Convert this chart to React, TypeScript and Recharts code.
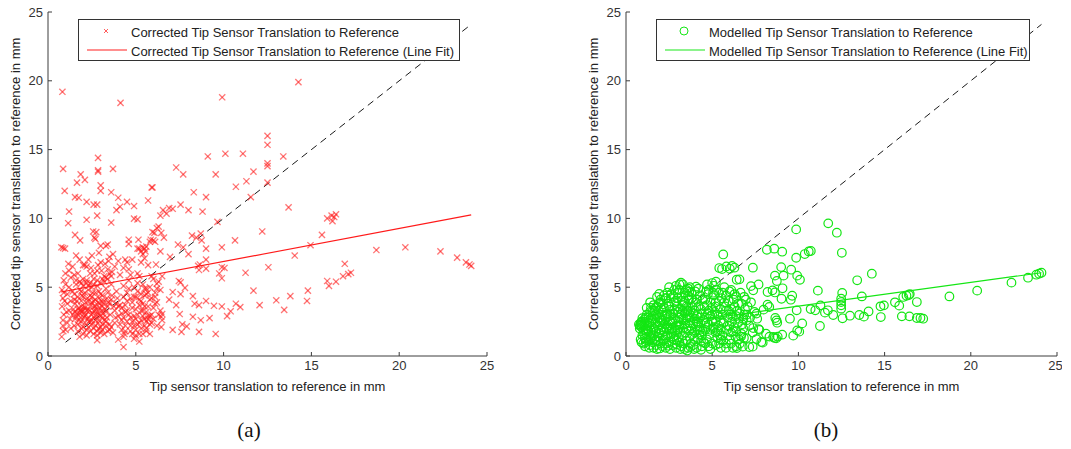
import {
  ScatterChart,
  Scatter,
  XAxis,
  YAxis,
  ReferenceLine,
  Legend,
} from 'recharts';

// axis ticks shared by both panels
const axisTicks = [0, 5, 10, 15, 20, 25];

// identity reference (dashed)
const diagonal = [
  { x: 1, y: 1 },
  { x: 24.1, y: 24.1 },
];

// (a) corrected – line fit end points
const correctedFit = [
  { x: 0.75, y: 4.65 },
  { x: 24.1, y: 10.25 },
];

// (b) modelled – line fit end points
const modelledFit = [
  { x: 0.8, y: 2.05 },
  { x: 24.1, y: 6.05 },
];

// (a) scattered points
const correctedSparse: [number, number][] = [
  [0.82, 19.2], [4.13, 18.4], [9.92, 18.8], [14.26, 19.9], [0.86, 13.6], [2.85, 14.4],
  [2.85, 13.5], [2.85, 13.4], [3.7, 13.6], [7.3, 13.7], [7.7, 13.2], [9.1, 14.5],
  [10.1, 14.7], [11.1, 14.7], [9.55, 13.2], [11.7, 13.4], [11.3, 12.7], [13.4, 14.5],
  [12.5, 16.0], [12.5, 15.35], [12.5, 14.0], [12.5, 13.8], [12.5, 12.6], [0.95, 12.0],
  [1.86, 13.2], [2.1, 12.8], [1.65, 12.6], [3.0, 12.4], [3.0, 12.0], [3.6, 11.9],
  [1.54, 11.55], [1.75, 11.5], [2.2, 11.2], [2.6, 11.0], [2.8, 11.0], [4.0, 11.5],
  [4.5, 11.2], [5.7, 11.3], [5.95, 12.25], [5.9, 12.25], [8.3, 11.9], [9.0, 11.55],
  [11.55, 11.55], [10.7, 12.3], [3.9, 10.6], [4.1, 10.85], [4.9, 10.9], [7.1, 10.7],
  [6.9, 10.75], [7.55, 11.0], [8.0, 10.6], [8.8, 10.5], [13.7, 10.8], [1.2, 10.5],
  [1.15, 9.65], [2.8, 10.2], [2.2, 9.9], [3.6, 9.7], [4.9, 9.98], [5.1, 9.93],
  [6.4, 10.2], [6.75, 10.35], [6.55, 10.6], [6.3, 9.4], [9.65, 9.75], [15.9, 10.0],
  [16.15, 10.2], [16.4, 10.3], [16.2, 9.8], [16.3, 10.1], [15.6, 8.8], [12.2, 9.05],
  [10.65, 8.4], [8.45, 8.6], [8.2, 8.75], [8.7, 8.9], [8.75, 8.4], [9.9, 7.9],
  [7.7, 7.9], [7.4, 8.1], [9.0, 7.8], [0.76, 7.9], [0.86, 7.85], [0.97, 7.8],
  [1.83, 8.4], [1.54, 8.8], [0.99, 6.0], [1.16, 6.7], [2.57, 9.05], [2.64, 8.6],
  [3.4, 8.1], [4.6, 8.45], [4.6, 8.15], [5.15, 8.45], [5.4, 7.9], [5.1, 7.8],
  [5.85, 8.45], [6.06, 8.95], [5.95, 9.0], [6.2, 9.3], [6.45, 8.95], [6.6, 8.6],
  [5.8, 8.3], [5.6, 7.95], [5.55, 7.6], [6.4, 7.6], [6.95, 7.2], [8.0, 7.4],
  [18.7, 7.7], [20.35, 7.9], [22.35, 7.6], [23.3, 7.15], [23.8, 6.8], [24.0, 6.65],
  [24.1, 6.55], [16.9, 6.7], [12.55, 6.45], [11.25, 6.05], [14.95, 8.05], [14.05, 7.3],
  [17.25, 6.05], [17.1, 5.95], [16.8, 5.8], [16.4, 5.4], [15.9, 5.45], [16.0, 5.1],
  [14.8, 4.75], [14.75, 4.0], [13.8, 4.35], [13.0, 4.05], [13.45, 3.35], [12.05, 3.7],
  [11.7, 4.75], [10.95, 3.55], [10.7, 3.8], [10.4, 3.25], [10.2, 2.9], [9.9, 3.6],
  [9.45, 3.65], [9.55, 1.6], [9.2, 2.75], [9.0, 4.0], [8.6, 3.7], [8.35, 3.8],
  [8.25, 4.35], [8.25, 2.85], [8.6, 1.75], [8.7, 2.6], [9.0, 7.0], [9.0, 6.35],
  [8.55, 6.55], [8.6, 6.25], [8.65, 6.65], [9.9, 6.45], [9.9, 5.65], [10.05, 6.4],
  [9.75, 6.0], [7.8, 4.95], [7.55, 5.35], [7.45, 5.45], [7.55, 4.5], [7.1, 4.65],
  [6.9, 4.1], [7.3, 3.7], [7.5, 3.05], [7.1, 1.9], [7.6, 1.75], [7.65, 2.3],
  [7.9, 2.15], [6.45, 2.1], [6.45, 2.85], [6.5, 3.05], [5.4, 1.6], [5.2, 1.05],
  [4.9, 1.25], [4.3, 0.65], [4.35, 1.6], [2.8, 1.15], [1.8, 1.4], [0.78, 1.4],
  [0.87, 1.8], [0.85, 2.2], [6.15, 6.65], [6.5, 5.8], [6.2, 5.25], [6.1, 4.6],
  [5.6, 4.9],
];

// (a) cluster near the origin
const correctedDense: [number, number][] = [
  [0.8, 4.8], [0.85, 4.2], [0.8, 3.6], [0.9, 3.0], [0.85, 2.6], [1.0, 5.2], [1.1, 4.5],
  [1.2, 3.3], [1.1, 2.4], [1.0, 1.9], [0.9, 5.5], [1.2, 5.0], [1.3, 4.0], [1.3, 2.0],
  [1.2, 6.2], [1.5, 3.2], [1.6, 2.9], [1.7, 3.4], [1.8, 3.1], [1.9, 3.6], [1.5, 4.5],
  [1.6, 5.5], [1.7, 6.0], [1.8, 4.8], [1.9, 4.7], [2.0, 3.3], [1.5, 2.2], [1.7, 1.8],
  [1.9, 2.5], [2.0, 2.1], [1.6, 7.3], [1.8, 7.0], [2.0, 6.6], [1.4, 6.5], [1.5, 5.9],
  [1.9, 5.3], [2.0, 4.3], [2.1, 3.5], [2.2, 3.3], [2.3, 3.4], [2.2, 5.3], [2.3, 5.1],
  [2.4, 4.4], [2.1, 6.6], [2.2, 6.5], [2.3, 7.0], [2.4, 2.6], [2.5, 2.3], [2.1, 2.9],
  [2.2, 1.9], [2.5, 3.9], [2.6, 5.2], [2.6, 4.0], [2.4, 6.0], [2.5, 7.3], [2.6, 1.6],
  [2.3, 4.0], [2.0, 5.6], [2.5, 5.0], [2.7, 3.6], [2.8, 3.2], [2.9, 3.0], [3.0, 2.9],
  [3.1, 3.1], [2.7, 4.6], [2.9, 4.2], [3.0, 4.5], [3.1, 5.6], [3.2, 5.8], [2.8, 6.2],
  [2.9, 7.5], [3.0, 8.0], [2.7, 8.5], [2.75, 9.0], [2.8, 1.8], [2.9, 2.0], [3.0, 1.7],
  [3.1, 2.3], [3.2, 2.6], [2.8, 5.5], [3.0, 6.8], [3.2, 4.0], [2.7, 2.6], [3.3, 3.2],
  [3.4, 3.6], [3.5, 3.8], [3.6, 4.1], [3.3, 5.7], [3.4, 6.3], [3.5, 6.0], [3.6, 5.8],
  [3.7, 7.4], [3.8, 6.5], [3.3, 2.2], [3.5, 1.9], [3.7, 1.7], [3.8, 2.4], [3.4, 4.6],
  [3.6, 5.2], [3.8, 3.3], [3.5, 7.2], [3.3, 8.0], [3.9, 3.8], [4.0, 3.6], [4.1, 3.7],
  [4.2, 3.5], [4.0, 2.9], [4.2, 2.6], [4.4, 2.2], [4.1, 5.9], [4.3, 6.4], [4.4, 7.0],
  [4.5, 6.8], [4.0, 6.9], [3.9, 4.7], [4.3, 4.3], [4.4, 3.2], [4.5, 2.5], [4.2, 1.9],
  [4.3, 1.4], [4.5, 4.0], [4.0, 1.2], [4.6, 6.3], [4.7, 5.9], [4.7, 2.8], [4.8, 2.5],
  [4.9, 2.2], [5.0, 2.7], [5.1, 3.0], [5.2, 2.4], [5.3, 2.6], [5.4, 2.9], [5.5, 2.7],
  [4.8, 3.5], [4.9, 4.3], [5.0, 4.3], [5.2, 3.7], [5.3, 4.0], [5.4, 3.3], [5.5, 3.6],
  [4.6, 4.9], [4.8, 7.0], [5.1, 6.0], [5.2, 7.8], [5.3, 7.6], [5.4, 7.4], [5.5, 7.8],
  [5.4, 5.2], [5.5, 4.4], [4.7, 1.8], [5.0, 1.5], [5.3, 2.0], [5.1, 5.3], [5.6, 2.5],
  [5.7, 2.9], [5.8, 2.3], [5.9, 3.0], [6.0, 3.5], [6.1, 3.8], [6.2, 3.9], [5.6, 4.5],
  [5.8, 5.0], [5.9, 5.8], [6.0, 8.4], [6.1, 8.3], [6.2, 4.9], [6.3, 5.4], [5.7, 3.6],
  [5.6, 1.8], [5.8, 4.1], [6.4, 3.3], [6.5, 2.6], [6.4, 4.8],
];

// (a) darkest core, x 1.3..4
const correctedCore: [number, number][] = [
  [1.4, 3.0], [1.45, 3.4], [1.55, 2.7], [1.65, 3.1], [1.75, 3.5], [1.85, 2.8], [1.95, 3.2],
  [2.05, 3.6], [2.15, 3.0], [2.25, 2.7], [2.35, 3.3], [2.45, 3.7], [2.55, 3.1], [2.65, 2.8],
  [2.75, 3.4], [2.85, 3.9], [2.95, 3.5], [3.05, 3.3], [3.15, 3.8], [3.25, 3.4], [1.5, 4.1],
  [1.7, 4.3], [1.9, 4.0], [2.1, 4.6], [2.3, 4.8], [2.5, 4.3], [2.7, 4.1], [2.9, 4.7],
  [3.1, 4.4], [3.3, 4.9], [1.6, 5.2], [1.8, 5.4], [2.0, 5.1], [2.2, 5.5], [2.4, 5.3],
  [2.6, 5.6], [2.8, 5.1], [3.0, 5.3], [3.2, 5.4], [3.4, 5.6], [1.7, 2.3], [1.9, 2.0],
  [2.1, 2.4], [2.3, 2.1], [2.5, 2.6], [2.7, 2.2], [2.9, 2.6], [3.1, 1.9], [3.3, 2.5],
  [3.5, 2.3], [2.0, 1.6], [2.2, 1.5], [2.4, 1.8], [2.6, 2.0], [2.8, 1.5], [3.0, 2.1],
  [3.2, 1.6], [3.4, 1.8], [3.6, 2.1], [2.45, 6.4], [2.65, 6.0], [2.85, 6.6], [3.05, 6.2],
  [3.25, 6.7], [3.45, 6.9], [3.65, 6.1], [1.3, 5.7], [1.4, 4.7], [1.1, 3.8], [1.25, 2.7],
  [1.05, 3.2], [0.95, 4.0], [0.9, 4.6], [3.55, 3.0], [3.75, 3.6], [3.65, 4.4], [3.85, 2.8],
  [3.95, 4.2], [3.45, 3.9], [3.35, 2.8], [1.55, 3.8], [1.75, 2.6], [1.95, 4.4], [2.15, 3.9],
  [2.35, 2.5], [2.55, 4.6], [2.75, 3.0], [2.95, 3.8], [3.15, 2.8], [3.35, 4.2], [2.05, 2.8],
  [2.25, 4.2], [2.45, 3.0], [2.65, 3.6], [2.85, 2.4], [3.05, 4.0], [1.65, 4.0], [1.85, 3.3],
  [2.6, 3.3], [3.1, 3.6],
];

// (a) lighter patch, x 4..6.5
const correctedLight: [number, number][] = [
  [4.1, 2.3], [4.3, 2.8], [4.5, 3.3], [4.7, 2.2], [4.9, 2.9], [5.1, 2.3], [5.3, 3.3],
  [5.5, 2.2], [5.7, 2.7], [5.9, 2.4], [4.2, 3.1], [4.4, 3.7], [4.6, 3.0], [4.8, 3.9],
  [5.0, 3.4], [5.2, 4.1], [5.4, 3.8], [5.6, 3.2], [5.8, 2.9], [6.0, 2.7], [4.5, 4.6],
  [4.7, 4.2], [4.9, 5.0], [5.1, 4.7], [5.3, 4.5], [5.5, 4.9], [5.7, 4.6], [5.9, 4.2],
  [4.3, 5.1], [4.6, 5.5], [5.0, 1.9], [5.2, 1.6], [5.6, 2.0], [5.8, 1.6], [4.4, 1.8],
  [4.8, 1.6], [6.2, 2.2], [6.3, 3.0], [6.1, 4.3], [6.0, 5.6], [5.7, 6.6], [5.5, 7.1],
  [5.3, 6.8], [5.2, 5.8],
];

// (b) scattered points
const modelledSparse: [number, number][] = [
  [11.73, 9.64], [12.23, 8.96], [9.87, 9.2], [12.52, 7.5], [8.17, 7.72], [8.6, 7.8],
  [9.06, 7.58], [10.72, 7.63], [10.37, 7.41], [10.6, 7.6], [9.87, 7.14], [5.64, 7.38],
  [5.41, 6.39], [5.82, 6.51], [6.02, 6.34], [6.29, 6.42], [7.36, 6.42], [9.0, 6.46],
  [9.14, 5.84], [9.58, 6.27], [9.93, 5.84], [10.09, 5.54], [8.64, 5.84], [8.75, 5.45],
  [9.08, 4.92], [9.64, 4.38], [9.56, 4.09], [9.02, 4.16], [8.5, 4.77], [8.64, 4.62],
  [8.21, 4.65], [7.69, 5.2], [7.25, 5.08], [7.38, 4.77], [6.42, 5.54], [13.41, 5.5],
  [14.26, 5.98], [11.13, 4.75], [12.54, 4.58], [12.48, 4.16], [12.48, 3.92], [12.48, 3.68],
  [12.48, 3.44], [13.68, 4.33], [14.76, 3.61], [14.96, 3.68], [15.6, 3.9], [16.08, 4.29],
  [16.27, 4.38], [16.46, 4.5], [16.41, 4.43], [16.87, 3.92], [18.76, 4.33], [20.37, 4.75],
  [22.36, 5.33], [23.32, 5.69], [23.8, 5.91], [23.96, 5.98], [24.1, 6.05], [15.85, 3.66],
  [14.07, 3.24], [13.53, 2.98], [13.8, 2.86], [12.99, 2.93], [12.56, 2.74], [12.02, 2.98],
  [11.54, 3.15], [11.71, 3.32], [11.28, 3.68], [10.98, 3.32], [10.71, 3.41], [11.25, 2.18],
  [10.22, 2.37], [9.93, 1.86], [10.05, 1.77], [9.7, 1.48], [9.51, 2.71], [9.9, 3.32],
  [14.78, 2.83], [16.0, 2.88], [16.44, 2.88], [16.87, 2.76], [17.08, 2.76], [17.24, 2.71],
  [8.62, 1.31], [8.71, 1.28], [8.54, 1.38], [8.73, 2.59], [8.77, 2.42], [8.66, 2.76],
  [8.12, 1.62], [7.85, 1.02], [7.93, 0.97], [7.57, 1.23], [7.15, 0.65], [6.84, 1.31],
  [6.43, 0.58], [7.38, 2.03], [7.69, 1.96], [9.06, 1.55], [7.98, 3.37], [8.21, 3.73],
  [8.31, 3.56], [7.57, 3.08], [7.61, 2.71], [6.8, 2.71], [5.57, 6.32], [6.15, 6.54],
  [6.58, 5.57], [5.22, 5.4], [3.19, 5.33], [3.1, 4.8], [1.93, 4.51], [2.32, 4.2],
  [3.67, 4.67], [4.06, 5.04], [4.64, 4.67], [0.87, 2.25], [1.06, 2.38], [1.16, 1.16],
  [6.77, 0.68], [7.35, 0.68], [6.67, 1.41], [7.74, 1.9], [8.32, 1.41], [8.8, 1.41],
];

// (b) cluster near the origin
const modelledDense: [number, number][] = [
  [0.75, 2.3], [0.8, 2.2], [0.85, 2.4], [0.9, 2.1], [0.95, 2.3], [1.0, 1.9], [1.1, 2.5],
  [1.2, 2.0], [0.9, 1.0], [1.0, 0.9], [1.1, 1.3], [1.2, 1.6], [1.3, 2.8], [1.4, 3.2],
  [1.3, 1.1], [1.4, 0.8], [1.5, 1.7], [1.5, 2.6], [1.2, 3.0], [1.45, 3.5], [1.6, 2.0],
  [1.7, 2.4], [1.8, 2.9], [1.9, 3.3], [2.0, 2.6], [2.1, 2.1], [2.2, 1.8], [2.3, 2.7],
  [2.4, 3.1], [2.5, 3.6], [1.6, 0.6], [1.7, 1.1], [1.8, 0.5], [1.9, 1.4], [2.0, 0.9],
  [2.1, 0.7], [2.2, 1.2], [2.3, 0.6], [2.4, 1.5], [2.5, 1.0], [1.8, 4.3], [1.9, 3.8],
  [2.0, 4.1], [2.2, 3.5], [2.3, 4.2], [2.4, 2.2], [1.7, 3.5], [2.1, 3.0], [2.5, 2.0],
  [1.6, 1.5], [2.6, 3.0], [2.7, 2.5], [2.8, 3.4], [2.9, 4.0], [3.0, 4.6], [3.1, 5.2],
  [3.2, 4.3], [3.3, 3.7], [3.4, 3.1], [3.5, 2.7], [2.6, 1.6], [2.7, 0.8], [2.8, 1.2],
  [2.9, 0.6], [3.0, 1.9], [3.1, 1.0], [3.2, 0.7], [3.3, 1.5], [3.4, 0.5], [3.5, 1.1],
  [2.6, 4.5], [2.8, 4.8], [3.0, 3.2], [3.2, 2.3], [3.4, 4.0], [2.7, 2.0], [3.1, 2.8],
  [3.5, 3.6], [2.9, 2.2], [3.3, 2.0], [3.6, 4.9], [3.7, 5.0], [3.8, 4.6], [3.9, 3.9],
  [4.0, 3.3], [4.1, 2.9], [4.2, 2.4], [4.3, 1.9], [4.4, 1.5], [4.5, 1.0], [3.6, 0.6],
  [3.7, 1.4], [3.8, 2.0], [3.9, 0.8], [4.0, 1.7], [4.1, 0.6], [4.2, 3.6], [4.3, 4.4],
  [4.4, 3.1], [4.5, 2.6], [3.7, 2.8], [3.9, 2.4], [4.1, 4.1], [4.4, 0.7], [3.6, 3.3],
  [4.6, 4.1], [4.7, 3.7], [4.8, 3.3], [4.9, 2.9], [5.0, 2.5], [5.1, 2.1], [5.2, 1.7],
  [5.3, 1.3], [5.4, 0.9], [5.5, 0.6], [4.6, 1.9], [4.7, 1.2], [4.8, 2.3], [4.9, 3.9],
  [5.0, 5.3], [5.1, 4.4], [5.2, 3.6], [5.3, 3.0], [5.4, 4.0], [5.5, 2.6], [4.7, 5.2],
  [5.0, 0.9], [5.2, 2.5], [5.5, 3.4], [4.8, 0.7], [5.6, 4.6], [5.7, 3.9], [5.8, 3.3],
  [5.9, 2.8], [6.0, 2.2], [6.1, 1.7], [6.2, 2.9], [6.3, 3.6], [6.4, 4.3], [6.5, 2.4],
  [5.6, 1.5], [5.8, 0.9], [6.0, 1.2], [6.2, 0.6], [6.4, 1.8], [6.6, 3.1], [6.7, 3.8],
  [6.8, 2.0], [6.9, 3.4], [7.0, 2.6], [5.7, 5.0], [6.1, 4.8], [6.3, 4.5], [7.0, 1.3],
  [6.6, 0.9],
];

// (b) solid core, x 0.8..4.5
const modelledCore: [number, number][] = [
  [0.8, 2.0], [0.9, 2.5], [1.0, 2.2], [1.05, 1.6], [1.15, 2.8], [1.25, 1.9], [1.35, 2.4],
  [1.45, 1.3], [1.55, 2.9], [1.65, 3.3], [1.75, 1.8], [1.85, 2.2], [1.95, 2.8], [2.05, 3.4],
  [2.15, 1.5], [2.25, 2.3], [2.35, 3.0], [2.45, 3.8], [2.55, 2.5], [2.65, 1.9], [2.75, 3.1],
  [2.85, 2.7], [2.95, 3.6], [3.05, 2.5], [3.15, 3.4], [3.25, 4.0], [3.35, 2.6], [3.45, 1.7],
  [3.55, 2.9], [3.65, 4.1], [3.75, 3.2], [3.85, 1.6], [3.95, 2.7], [4.05, 3.9], [4.15, 1.3],
  [4.25, 2.1], [4.35, 3.4], [4.45, 1.8], [1.1, 0.7], [1.35, 0.6], [1.55, 1.0], [1.75, 0.8],
  [1.95, 0.55], [2.15, 1.1], [2.35, 0.9], [2.55, 0.5], [2.75, 1.4], [2.95, 1.1], [3.15, 0.5],
  [3.35, 0.9], [3.55, 0.4], [3.75, 0.9], [3.95, 0.5], [4.15, 1.9], [4.35, 1.1], [1.2, 3.5],
  [1.4, 3.9], [1.6, 3.7], [1.8, 3.6], [2.0, 3.9], [2.2, 4.4], [2.4, 4.6], [2.6, 4.2],
  [2.8, 3.9], [3.0, 4.2], [3.2, 3.0], [3.4, 4.6], [3.6, 4.4], [3.8, 4.2], [4.0, 4.7],
  [4.2, 4.9], [2.5, 5.0], [2.9, 5.1], [3.3, 5.2], [3.5, 4.8], [1.3, 1.8], [1.5, 2.1],
  [1.7, 2.7], [1.9, 1.7], [2.1, 2.6], [2.3, 1.4], [2.5, 2.9], [2.7, 1.7], [2.9, 1.5],
  [3.1, 2.2], [3.3, 3.3], [3.5, 2.0], [3.7, 2.4], [3.9, 3.1], [4.1, 2.5], [4.3, 2.8],
  [0.95, 1.5], [0.85, 1.2], [1.15, 1.0], [1.05, 2.65], [1.25, 2.25], [1.45, 2.75],
  [1.65, 1.25], [1.85, 1.05], [2.05, 1.85], [2.25, 2.95], [2.45, 0.75], [2.65, 2.35],
  [2.85, 1.85], [3.05, 1.35], [3.25, 2.65], [3.45, 2.35], [3.65, 1.85], [3.85, 3.55],
  [4.05, 2.15], [4.25, 1.55], [4.45, 4.15], [1.35, 1.45], [1.55, 3.25], [1.75, 3.05],
  [1.95, 2.45], [2.15, 3.75], [2.35, 1.95], [2.55, 3.35], [2.75, 4.35], [2.95, 0.85],
  [3.15, 1.75], [3.35, 3.85], [3.55, 3.25], [3.75, 0.65], [3.95, 1.25], [4.15, 3.05],
  [4.35, 0.45], [0.95, 2.75], [1.15, 1.85],
];

// (b) lighter patch, x 4.5..7.5
const modelledLight: [number, number][] = [
  [4.55, 3.6], [4.65, 2.8], [4.75, 4.5], [4.85, 1.6], [4.95, 3.5], [5.05, 2.0], [5.15, 3.2],
  [5.25, 4.8], [5.35, 2.2], [5.45, 1.5], [5.55, 4.2], [5.65, 2.4], [5.75, 3.6], [5.85, 1.9],
  [5.95, 4.0], [6.05, 3.0], [6.15, 2.5], [6.25, 4.1], [6.35, 1.4], [6.45, 3.3], [6.55, 2.7],
  [6.65, 4.6], [6.75, 2.3], [6.85, 3.0], [6.95, 4.1], [7.05, 3.6], [7.15, 2.2], [7.25, 3.9],
  [7.35, 1.7], [7.45, 3.2], [4.6, 0.9], [4.9, 0.5], [5.2, 0.8], [5.5, 1.2], [5.8, 0.6],
  [6.1, 0.9], [6.4, 0.7], [4.7, 2.1], [5.0, 3.0], [5.3, 1.8], [5.6, 3.0], [5.9, 2.2],
  [6.2, 1.8], [6.5, 3.8], [4.8, 4.8], [5.1, 5.1], [5.4, 4.6], [6.0, 4.7], [4.6, 2.4],
  [4.9, 1.9], [5.2, 3.9], [5.5, 1.9], [5.8, 4.4], [6.1, 3.4], [6.4, 2.9], [6.7, 1.6],
  [7.0, 3.0], [7.2, 2.8], [4.75, 3.1], [5.05, 4.6], [5.35, 2.9], [5.65, 1.1], [5.95, 3.3],
  [6.25, 2.1], [6.55, 1.2], [6.85, 4.3],
];

const toPoints = (rows: [number, number][]) => rows.map(([x, y]) => ({ x, y }));
const correctedPoints = toPoints([...correctedCore, ...correctedDense, ...correctedLight, ...correctedSparse]);
const modelledPoints = toPoints([...modelledCore, ...modelledDense, ...modelledLight, ...modelledSparse]);

const FONT = '"Liberation Sans", Arial, sans-serif';
const tickStyle = { fontSize: 13, fill: '#333', fontFamily: FONT };
const AXIS = '#3c3c3c';
const RED = '#ff1a1a';
const GREEN = '#14e614';
const X_LABEL = 'Tip sensor translation to reference in mm';
const Y_LABEL = 'Corrected tip sensor translation to reference in mm';

function CrossMark(props: any) {
  const { cx, cy } = props;
  const s = 3.1;
  return (
    <g stroke={RED} strokeOpacity={0.6} strokeWidth={1.3}>
      <line x1={cx - s} y1={cy - s} x2={cx + s} y2={cy + s} />
      <line x1={cx - s} y1={cy + s} x2={cx + s} y2={cy - s} />
    </g>
  );
}

function CircleMark(props: any) {
  const { cx, cy } = props;
  return <circle cx={cx} cy={cy} r={4.3} fill="none" stroke={GREEN} strokeWidth={1.2} />;
}

function YTitle(props: any) {
  const { viewBox } = props;
  const cx = viewBox.x + 15;
  const cy = viewBox.y + viewBox.height / 2;
  return (
    <text
      x={cx}
      y={cy}
      transform={`rotate(-90 ${cx} ${cy})`}
      textAnchor="middle"
      dominantBaseline="central"
      fontSize={13}
      fontFamily={FONT}
      fill="#222"
    >
      {Y_LABEL}
    </text>
  );
}

function LegendBox({ marker, color, labels, width }: any) {
  return (
    <div
      style={{
        width,
        height: 40,
        border: '1px solid #333',
        background: '#fff',
        fontFamily: FONT,
        fontSize: 13,
        color: '#222',
        position: 'relative',
        textAlign: 'left',
      }}
    >
      <svg width={width} height={40} style={{ position: 'absolute', left: 0, top: 0 }}>
        {marker === 'x' ? (
          <g stroke={color} strokeOpacity={0.7} strokeWidth={1}>
            <line x1={25} y1={9} x2={29} y2={13} />
            <line x1={25} y1={13} x2={29} y2={9} />
          </g>
        ) : (
          <circle cx={27} cy={11} r={4} fill="none" stroke={color} />
        )}
        <line x1={8} y1={30} x2={48} y2={30} stroke={color} strokeOpacity={0.65} strokeWidth={1.5} />
      </svg>
      <div style={{ position: 'absolute', left: 52, top: 3, lineHeight: '19px', whiteSpace: 'nowrap' }}>
        <div>{labels[0]}</div>
        <div>{labels[1]}</div>
      </div>
    </div>
  );
}

function Panel({ left, width, rightMargin, points, fit, shape, color, marker, legendLabels, legendWidth }: any) {
  return (
    <div style={{ position: 'absolute', left, top: 0 }}>
      <ScatterChart width={width} height={400} margin={{ top: 12, right: rightMargin, bottom: 0, left: 0 }}>
        <XAxis
          type="number"
          dataKey="x"
          domain={[0, 25]}
          ticks={axisTicks}
          allowDataOverflow
          height={44}
          tickSize={-4}
          tickMargin={9}
          tick={tickStyle}
          stroke={AXIS}
          label={{ value: X_LABEL, position: 'insideBottom', offset: 9, style: { ...tickStyle, fill: '#222' } }}
        />
        <YAxis
          type="number"
          dataKey="y"
          domain={[0, 25]}
          ticks={axisTicks}
          allowDataOverflow
          width={48}
          tickSize={-4}
          tickMargin={9}
          tick={tickStyle}
          stroke={AXIS}
          label={(p: any) => <YTitle {...p} />}
        />
        <Scatter data={points} shape={shape} isAnimationActive={false} />
        <ReferenceLine
          segment={diagonal}
          stroke="#1a1a1a"
          strokeDasharray="7 5"
          strokeWidth={1}
          ifOverflow="visible"
        />
        <ReferenceLine segment={fit} stroke={color} strokeWidth={1.2} ifOverflow="visible" />
        <Legend
          layout="horizontal"
          verticalAlign="middle"
          align="center"
          wrapperStyle={{ position: 'absolute', left: 78, top: 19, width: legendWidth + 2 }}
          content={() => (
            <LegendBox marker={marker} color={color} labels={legendLabels} width={legendWidth} />
          )}
        />
      </ScatterChart>
    </div>
  );
}

const captionStyle: any = {
  position: 'absolute',
  top: 418,
  width: 60,
  textAlign: 'center',
  fontFamily: '"Liberation Serif", "Times New Roman", serif',
  fontSize: 21,
  color: '#111',
};

export default function App() {
  return (
    <div style={{ position: 'absolute', left: 0, top: 0, width: 1071, height: 449, background: '#fff' }}>
      <Panel
        left={0}
        width={500}
        rightMargin={13}
        points={correctedPoints}
        fit={correctedFit}
        shape={CrossMark}
        color={RED}
        marker="x"
        legendLabels={[
          'Corrected Tip Sensor Translation to Reference',
          'Corrected Tip Sensor Translation to Reference (Line Fit)',
        ]}
        legendWidth={380}
      />
      <Panel
        left={578}
        width={484}
        rightMargin={5}
        points={modelledPoints}
        fit={modelledFit}
        shape={CircleMark}
        color={GREEN}
        marker="o"
        legendLabels={[
          'Modelled Tip Sensor Translation to Reference',
          'Modelled Tip Sensor Translation to Reference (Line Fit)',
        ]}
        legendWidth={372}
      />
      <div style={{ ...captionStyle, left: 219 }}>(a)</div>
      <div style={{ ...captionStyle, left: 796 }}>(b)</div>
    </div>
  );
}
